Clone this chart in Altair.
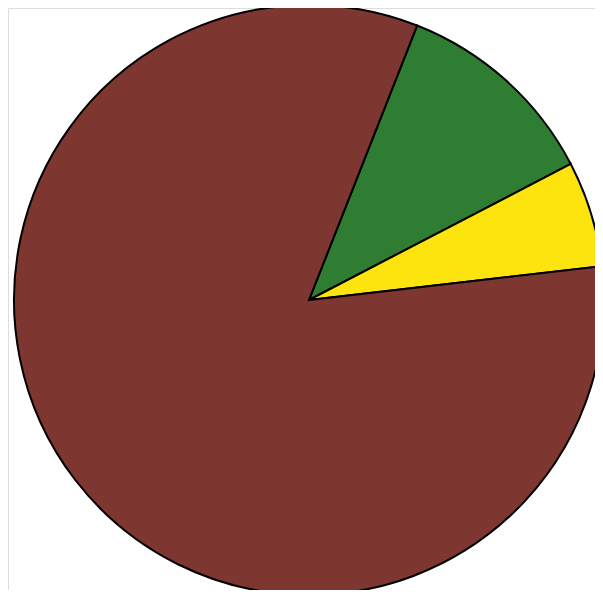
import math
import altair as alt
import pandas as pd

categories = ["Green", "Yellow", "Brown"]
values = [11.4, 5.8, 82.8]
colors = ["#2f7d33", "#fde40e", "#7e3631"]
order = [1, 2, 3]

df = pd.DataFrame({"category": categories, "value": values, "order": order})

start = math.radians(21.5)

chart = (
    alt.Chart(df)
    .mark_arc(stroke="black", strokeWidth=2, radius=295)
    .encode(
        theta=alt.Theta("value:Q", stack=True,
                        scale=alt.Scale(range=[start, start + 2 * math.pi])),
        color=alt.Color("category:N",
                        scale=alt.Scale(domain=categories, range=colors),
                        legend=None),
        order=alt.Order("order:Q"),
        x=alt.value(301),
        y=alt.value(292),
    )
    .properties(width=587, height=582, padding=0,
                autosize=alt.AutoSizeParams(type="none"))
    .configure_view(strokeOpacity=0, strokeWidth=0)
    .configure(background="white")
)

chart.save("out.html", embed_options={"renderer": "svg", "actions": False})
